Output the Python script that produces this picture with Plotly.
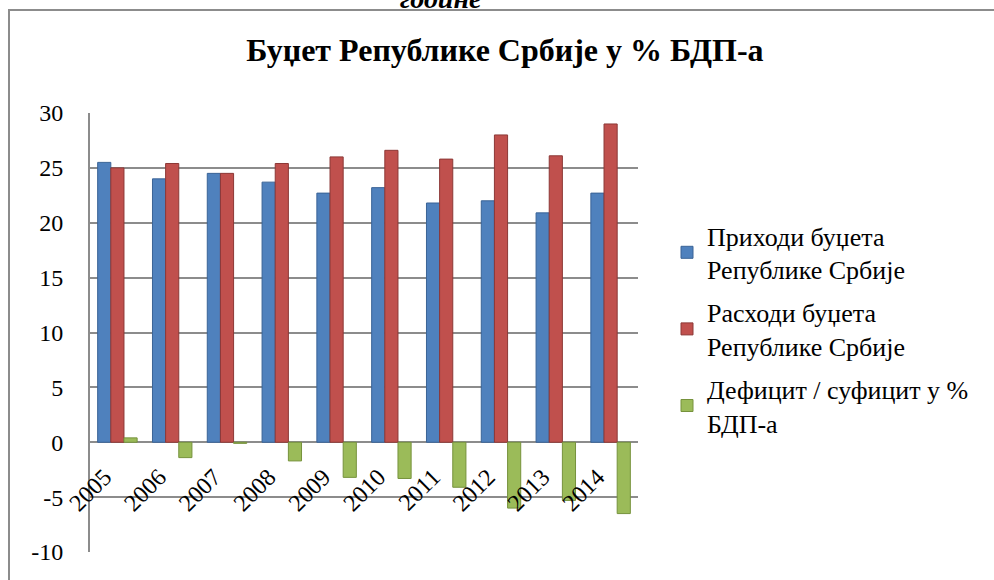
import plotly.graph_objects as go

years = ["2005", "2006", "2007", "2008", "2009", "2010", "2011", "2012", "2013", "2014"]
revenues = [25.5, 24.0, 24.5, 23.7, 22.7, 23.2, 21.8, 22.0, 20.9, 22.7]
expenditures = [25.0, 25.4, 24.5, 25.4, 26.0, 26.6, 25.8, 28.0, 26.1, 29.0]
balance = [0.4, -1.4, -0.1, -1.7, -3.2, -3.3, -4.1, -6.0, -5.3, -6.5]

y_ticks = [-10, -5, 0, 5, 10, 15, 20, 25, 30]
y_tick_text = ["-10", "-5", "0", "5", "10", "15", "20", "25", "30"]

names = ["Приходи буџета<br>Републике Србије",
         "Расходи буџета<br>Републике Србије",
         "Дефицит / суфицит у %<br>БДП-а"]
colors = ["#4F81BD", "#C0504D", "#9BBB59"]
edges = ["#3A6396", "#8C3836", "#76923C"]

FONT = "Liberation Serif, Times New Roman, serif"

fig = go.Figure()
for i, (vals, nm) in enumerate(zip([revenues, expenditures, balance], names)):
    fig.add_trace(go.Bar(x=years, y=vals, name=nm, marker_color=colors[i],
                         marker_line=dict(color=edges[i], width=1),
                         legendgroup=str(i)))

W, H = 994, 580
L, R, T, B = 90, 356, 113, 28
pw = W - L - R
ph = H - T - B

def px_x(p):
    return (p - L) / pw

def px_y(p):
    return (H - B - p) / ph

fig.update_layout(
    width=W, height=H,
    margin=dict(l=L, r=R, t=T, b=B),
    paper_bgcolor="white", plot_bgcolor="white",
    font=dict(family=FONT, size=24, color="black"),
    barmode="group", bargap=0.28, bargroupgap=0,
    title=dict(text="<b>Буџет Републике Србије у % БДП-а</b>",
               x=0.508, xanchor="center", y=1 - 50 / H, yanchor="middle",
               xref="container", yref="container",
               font=dict(family=FONT, size=32, color="black")),
    showlegend=True,
    legend=dict(x=px_x(667), y=px_y(212), xanchor="left", yanchor="top",
                font=dict(family=FONT, size=26, color="black"),
                traceorder="grouped", tracegroupgap=6,
                itemwidth=30, bgcolor="rgba(0,0,0,0)"),
    xaxis=dict(type="category", anchor="free", position=0.25,
               showgrid=False, showline=False, ticks="",
               ticklabelstandoff=15, ticklabelshift=-13,
               tickangle=-45, tickfont=dict(family=FONT, size=24, color="black")),
    yaxis=dict(range=[-10, 30], tickvals=y_ticks, ticktext=y_tick_text,
               showgrid=True, gridcolor="#8C8C8C", gridwidth=2,
               zeroline=True, zerolinecolor="#8C8C8C", zerolinewidth=2,
               showline=True, linecolor="#8C8C8C", linewidth=2,
               ticks="outside", ticklen=20, tickcolor="rgba(0,0,0,0)",
               tickfont=dict(family=FONT, size=24, color="black")),
    shapes=[
        dict(type="rect", xref="paper", yref="paper",
             x0=px_x(9), x1=px_x(1010), y0=px_y(10), y1=px_y(600),
             line=dict(color="#8C8C8C", width=2), fillcolor="rgba(0,0,0,0)",
             layer="above"),
    ],
    annotations=[
        dict(text="<b><i>године</i></b>", xref="paper", yref="paper",
             x=px_x(440), y=px_y(16), xanchor="center", yanchor="bottom",
             showarrow=False, font=dict(family=FONT, size=28, color="black")),
    ],
)

fig.write_html("out.html", config={"displayModeBar": False},
               post_script="document.body.style.margin='0';")
